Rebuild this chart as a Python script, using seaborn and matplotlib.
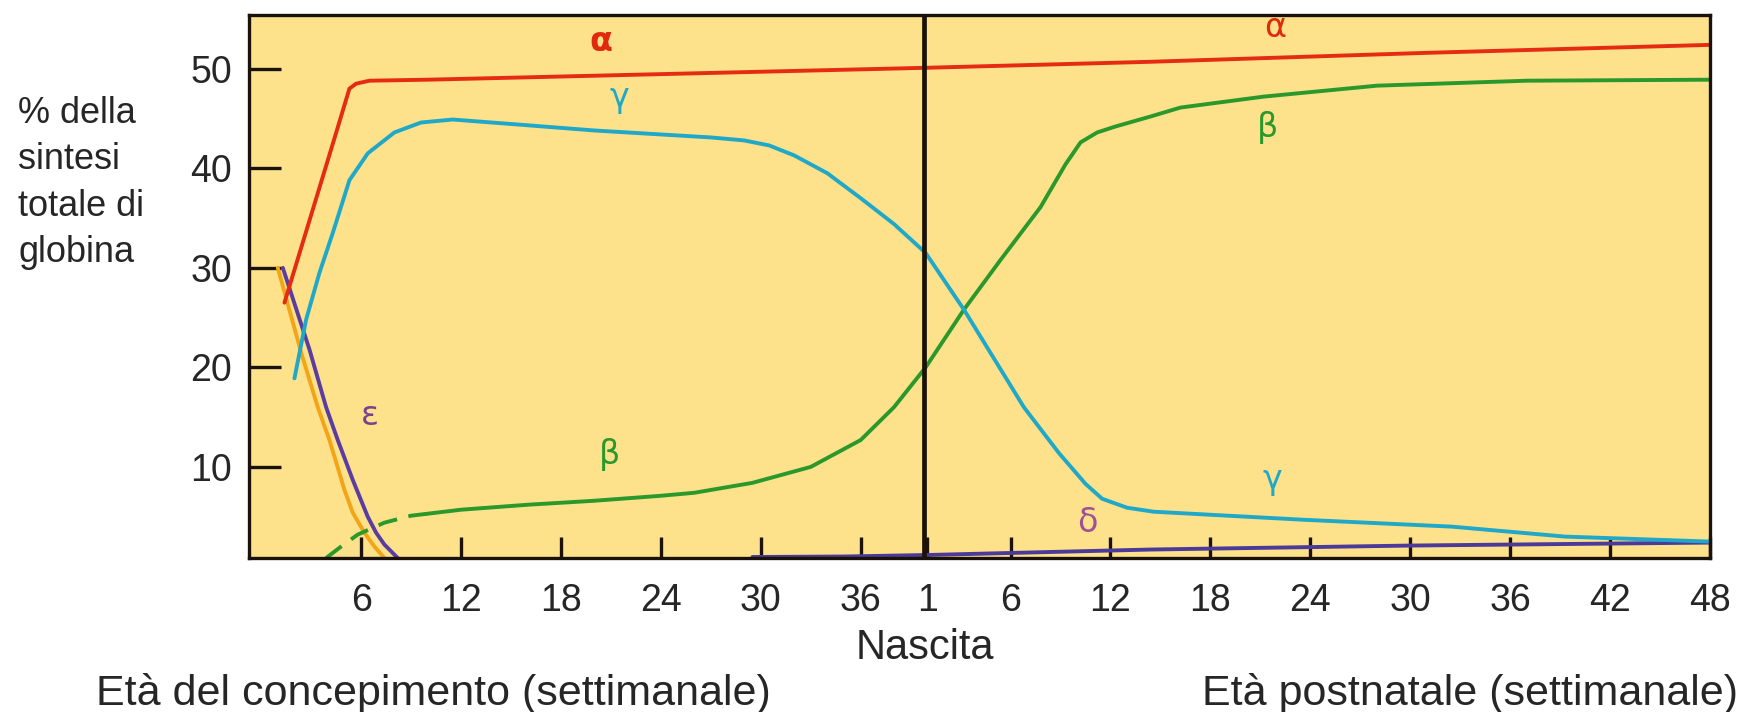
import matplotlib
matplotlib.use("Agg")
import matplotlib.pyplot as plt
import seaborn as sns
import pandas as pd

# ---- data (x: weeks; prenatal week w -> w, postnatal week p -> 39 + p) ----
alpha_x = [1.4, 2.4, 3.4, 4.4, 5.3, 5.7, 6.5, 10, 20, 30, 40, 53.4, 70, 87]
alpha_y = [26.5, 32.0, 37.5, 43.0, 48.0, 48.5, 48.8, 48.9, 49.3, 49.7, 50.1, 50.7, 51.6, 52.4]

gamma_x = [2.0, 2.7, 3.5, 4.3, 5.3, 6.4, 8.0, 9.6, 11.5, 15.4, 20, 24, 27, 29, 30.5, 32, 34,
           36, 38, 39.9, 42.2, 44.0, 45.8, 47.9, 49.5, 50.5, 52.0, 53.6, 62.5, 71.5, 78.3, 87]
gamma_y = [18.9, 24.8, 29.5, 33.5, 38.8, 41.5, 43.6, 44.6, 44.9, 44.4, 43.8, 43.4, 43.1, 42.8, 42.3, 41.3, 39.5,
           37.0, 34.4, 31.5, 25.8, 20.9, 16.0, 11.4, 8.3, 6.8, 5.9, 5.5, 4.7, 4.0, 3.0, 2.5]

beta_early_x = [3.9, 4.8, 5.8, 7.4, 9.0, 10.0]
beta_early_y = [0.85, 2.0, 3.2, 4.4, 5.1, 5.3]
beta_x = [10.0, 12, 16, 20, 24, 26, 29.5, 33, 36, 38, 39.9, 42.2, 44.4, 46.8, 48.3, 49.2, 50.2, 51.3,
          53.4, 55.2, 60.2, 67, 76, 87]
beta_y = [5.3, 5.7, 6.2, 6.6, 7.1, 7.4, 8.4, 10.0, 12.7, 16.0, 20.0, 25.8, 30.8, 36.1, 40.4, 42.6, 43.6, 44.2,
          45.2, 46.1, 47.2, 48.3, 48.8, 48.9]

epsilon_x = [1.3, 2.9, 3.9, 4.6, 5.5, 6.4, 6.9, 7.4, 8.2]
epsilon_y = [30.0, 21.8, 16.0, 12.7, 8.7, 5.0, 3.4, 2.2, 0.85]

zeta_x = [1.0, 2.4, 3.4, 4.1, 5.0, 5.5, 6.2, 6.8, 7.4]
zeta_y = [30.0, 21.5, 16.0, 12.7, 7.7, 5.4, 3.4, 2.0, 0.85]

delta_x = [29.5, 35, 40, 53.4, 69, 87]
delta_y = [0.95, 1.0, 1.15, 1.7, 2.1, 2.4]

birth_x = 39.8

prenatal_ticks = [6, 12, 18, 24, 30, 36]
postnatal_ticks = [1, 6, 12, 18, 24, 30, 36, 42, 48]
y_ticks = [10, 20, 30, 40, 50]

# labels: (text, x, y, colour, weight)
curve_labels = [
    ("α", 20.4, 52.7, "#E02A10", "bold"),
    ("α", 60.9, 54.1, "#E02A10", "normal"),
    ("γ", 21.5, 47.1, "#20A8C8", "normal"),
    ("β", 60.4, 44.1, "#2A982A", "normal"),
    ("β", 20.9, 11.2, "#2A982A", "normal"),
    ("ε", 6.5, 15.2, "#7B3F8F", "normal"),
    ("δ", 49.6, 4.4, "#A05098", "normal"),
    ("γ", 60.7, 8.7, "#20A8C8", "normal"),
]

# ---- styling ----
sns.set_style("white")
plt.rcParams["font.family"] = ["Liberation Sans", "DejaVu Sans"]

fig = plt.figure(figsize=(17.42, 7.12), dpi=100)
ax = fig.add_axes([249 / 1742, 1 - 558 / 712, (1710 - 249) / 1742, (558 - 15) / 712])
ax.set_facecolor("#FDE28B")

LW = 2.8
series = [
    (zeta_x, zeta_y, "#F2A516", "-"),
    (epsilon_x, epsilon_y, "#5B3CA0", "-"),
    (delta_x, delta_y, "#4B3A9A", "-"),
    (beta_early_x, beta_early_y, "#2A982A", (0, (5, 3))),
    (beta_x, beta_y, "#2A982A", "-"),
    (gamma_x, gamma_y, "#20A8C8", "-"),
    (alpha_x, alpha_y, "#E52B12", "-"),
]
for xs, ys, col, ls in series:
    df = pd.DataFrame({"x": xs, "y": ys})
    sns.lineplot(data=df, x="x", y="y", ax=ax, color=col, linewidth=LW,
                 linestyle=ls, sort=False, estimator=None)

ax.axvline(birth_x, color="#1a1208", linewidth=3.4, zorder=5)

for txt, x, y, col, wt in curve_labels:
    ax.text(x, y, txt, color=col, fontsize=24, ha="center", va="center",
            fontweight=wt, family=["DejaVu Sans"])

ax.set_xlim(-0.73, 87)
ax.set_ylim(0.85, 55.4)

xt = prenatal_ticks + [39 + p for p in postnatal_ticks]
xl = [str(t) for t in prenatal_ticks] + [str(p) for p in postnatal_ticks]
ax.set_xticks(xt)
ax.set_xticklabels(xl)
ax.set_yticks(y_ticks)
ax.set_yticklabels([str(t) for t in y_ticks])
ax.tick_params(axis="x", which="major", bottom=True, top=False, direction="in",
               length=15, width=2.4, color="#1a1208", labelsize=27, pad=18)
ax.tick_params(axis="y", which="major", left=True, right=False, direction="in",
               length=23, width=2.4, color="#1a1208", labelsize=27, pad=12)
ax.set_xlabel("")
ax.set_ylabel("")
for s in ax.spines.values():
    s.set_color("#1a1208")
    s.set_linewidth(2.4)
    s.set_visible(True)

fig.text(18 / 1742, 1 - 183 / 712, "% della\nsintesi\ntotale di\nglobina",
         fontsize=26, ha="left", va="center", linespacing=1.42)
fig.text(925 / 1742, 1 - 648 / 712, "Nascita", fontsize=30, ha="center", va="center")
fig.text(96 / 1742, 1 - 694 / 712, "Età del concepimento (settimanale)", fontsize=31,
         ha="left", va="center")
fig.text(1738 / 1742, 1 - 694 / 712, "Età postnatale (settimanale)", fontsize=31,
         ha="right", va="center")

fig.savefig("out.png", dpi=100, facecolor="white")
